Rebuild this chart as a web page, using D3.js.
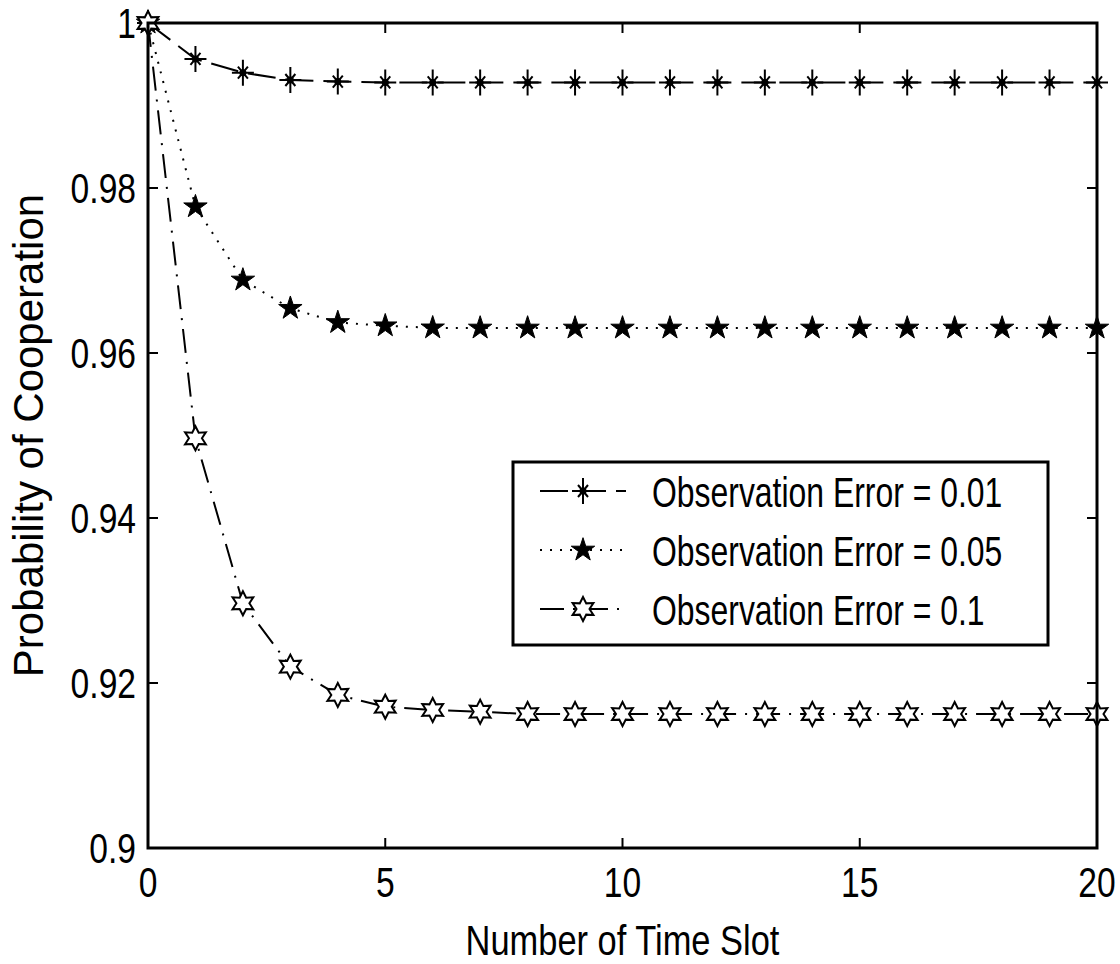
<!DOCTYPE html>
<html>
<head>
<meta charset="utf-8">
<script src="https://cdn.jsdelivr.net/npm/d3@7"></script>
<style>
  body { margin: 0; background: #fff; }
  text { font-family: "Liberation Sans", Arial, sans-serif; fill: #000; }
</style>
</head>
<body>
<svg id="chart" width="1120" height="964"></svg>
<script>
// data
var slots = d3.range(0, 21);
var err001 = [1, 0.99564, 0.99398, 0.99309, 0.99290, 0.99280, 0.99280, 0.99280, 0.99280, 0.99280, 0.99280,
              0.99280, 0.99280, 0.99280, 0.99280, 0.99280, 0.99280, 0.99280, 0.99280, 0.99280, 0.99280];
var err005 = [1, 0.97773, 0.96885, 0.96542, 0.96370, 0.96330, 0.96305, 0.96303, 0.96303, 0.96303, 0.96303,
              0.96303, 0.96303, 0.96303, 0.96303, 0.96303, 0.96303, 0.96303, 0.96303, 0.96303, 0.96303];
var err01  = [1, 0.94966, 0.92966, 0.92198, 0.91855, 0.91713, 0.91673, 0.91652, 0.91624, 0.91624, 0.91624,
              0.91624, 0.91624, 0.91624, 0.91624, 0.91624, 0.91624, 0.91624, 0.91624, 0.91624, 0.91624];
var seriesNames = ["Observation Error = 0.01", "Observation Error = 0.05", "Observation Error = 0.1"];
var xTicks = [0, 5, 10, 15, 20];
var yTicks = [0.9, 0.92, 0.94, 0.96, 0.98, 1];

var svg = d3.select("#chart");
var plotL = 148, plotR = 1097, plotT = 23, plotB = 848;

var x = d3.scaleLinear().domain([0, 20]).range([plotL, plotR]);
var y = d3.scaleLinear().domain([0.9, 1]).range([plotB, plotT]);

var series = [
  { name: seriesNames[0], values: err001, dash: "28,10", marker: "asterisk" },
  { name: seriesNames[1], values: err005, dash: "2,8", marker: "pentagram" },
  { name: seriesNames[2], values: err01, dash: "24,9,2,9", marker: "hexagram" }
];

// markers
function drawMarker(g, type) {
  if (type === "asterisk") {
    g.append("path")
      .attr("d", "M-11,0H11M0,-13V13M-5,-6L5,6M-5,6L5,-6")
      .attr("stroke", "#000").attr("stroke-width", 2).attr("fill", "none");
    g.append("circle").attr("r", 3.5).attr("fill", "#000");
  } else if (type === "pentagram") {
    g.append("path")
      .attr("d", d3.symbol().type(d3.symbolStar).size(170)())
      .attr("fill", "#000").attr("stroke", "#000").attr("stroke-width", 1);
  } else {
    var pts = [];
    for (var i = 0; i < 12; i++) {
      var r = i % 2 === 0 ? 12 : 6.5;
      var a = -Math.PI / 2 + i * Math.PI / 6;
      pts.push([r * Math.cos(a), r * Math.sin(a)]);
    }
    g.append("path")
      .attr("d", "M" + pts.join("L") + "Z")
      .attr("fill", "#fff").attr("stroke", "#000").attr("stroke-width", 2);
  }
}

var line = d3.line()
  .x(function (d, i) { return x(slots[i]); })
  .y(function (d) { return y(d); });

series.forEach(function (s) {
  svg.append("path")
    .attr("d", line(s.values))
    .attr("fill", "none")
    .attr("stroke", "#000")
    .attr("stroke-width", 2)
    .attr("stroke-dasharray", s.dash);
  s.values.forEach(function (v, i) {
    var g = svg.append("g").attr("transform", "translate(" + x(slots[i]) + "," + y(v) + ")");
    drawMarker(g, s.marker);
  });
});

// axes box
svg.append("rect")
  .attr("x", plotL).attr("y", plotT)
  .attr("width", plotR - plotL).attr("height", plotB - plotT)
  .attr("fill", "none").attr("stroke", "#000").attr("stroke-width", 3);

var tickLen = 10;
xTicks.forEach(function (t) {
  svg.append("line").attr("x1", x(t)).attr("x2", x(t)).attr("y1", plotB).attr("y2", plotB - tickLen)
    .attr("stroke", "#000").attr("stroke-width", 2);
  svg.append("line").attr("x1", x(t)).attr("x2", x(t)).attr("y1", plotT).attr("y2", plotT + tickLen)
    .attr("stroke", "#000").attr("stroke-width", 2);
  svg.append("text")
    .attr("transform", "translate(" + x(t) + "," + 897 + ") scale(0.8,1)")
    .attr("text-anchor", "middle")
    .attr("font-size", 42)
    .text(t);
});

yTicks.forEach(function (t) {
  svg.append("line").attr("x1", plotL).attr("x2", plotL + tickLen).attr("y1", y(t)).attr("y2", y(t))
    .attr("stroke", "#000").attr("stroke-width", 2);
  svg.append("line").attr("x1", plotR).attr("x2", plotR - tickLen).attr("y1", y(t)).attr("y2", y(t))
    .attr("stroke", "#000").attr("stroke-width", 2);
  svg.append("text")
    .attr("transform", "translate(" + 136 + "," + (y(t) + 15) + ") scale(0.8,1)")
    .attr("text-anchor", "end")
    .attr("font-size", 42)
    .text(+t.toFixed(2));
});

// axis titles
svg.append("text")
  .attr("transform", "translate(" + (plotL + plotR) / 2 + ",955) scale(0.82,1)")
  .attr("text-anchor", "middle")
  .attr("font-size", 42)
  .text("Number of Time Slot");

svg.append("text")
  .attr("transform", "translate(43," + (plotT + plotB) / 2 + ") rotate(-90)")
  .attr("text-anchor", "middle")
  .attr("font-size", 42)
  .text("Probability of Cooperation");

// legend
var legend = svg.append("g");
legend.append("rect")
  .attr("x", 513).attr("y", 462).attr("width", 535).attr("height", 183)
  .attr("fill", "#fff").attr("stroke", "#000").attr("stroke-width", 3);

var rowY = [491, 550, 609];
series.forEach(function (s, i) {
  legend.append("line")
    .attr("x1", 540).attr("x2", 626).attr("y1", rowY[i]).attr("y2", rowY[i])
    .attr("stroke", "#000").attr("stroke-width", 2)
    .attr("stroke-dasharray", s.dash);
  var g = legend.append("g").attr("transform", "translate(583," + rowY[i] + ")");
  drawMarker(g, s.marker);
  legend.append("text")
    .attr("transform", "translate(652," + (rowY[i] + 16) + ") scale(0.76,1)")
    .attr("font-size", 42)
    .text(s.name);
});
</script>
</body>
</html>
